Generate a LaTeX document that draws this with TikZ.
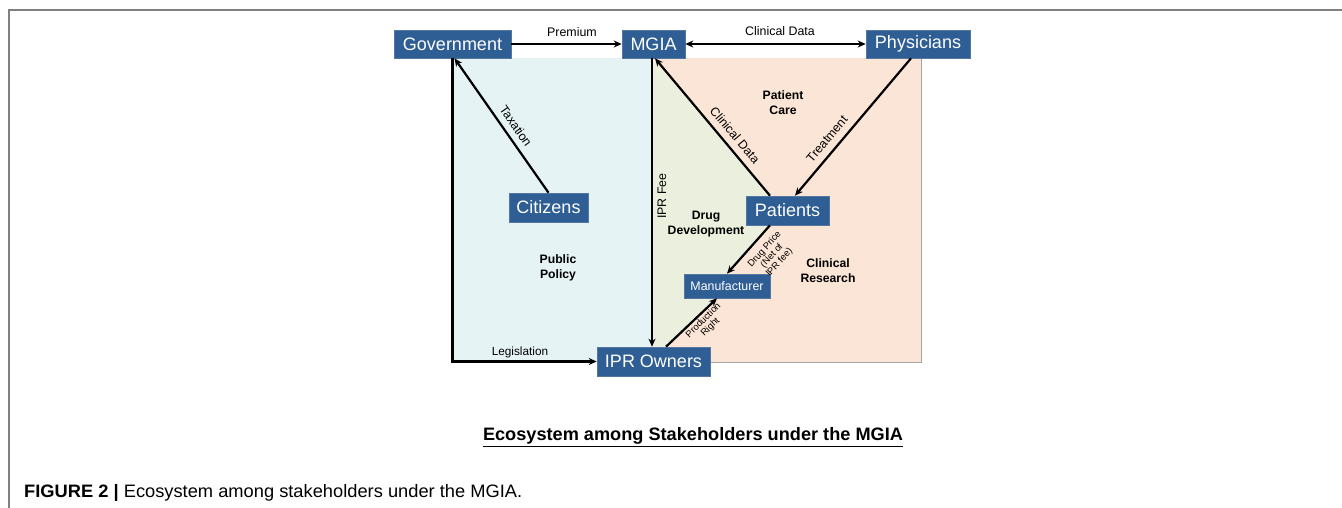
\documentclass[tikz,border=0pt]{standalone}
\usepackage{fontspec}
\setmainfont{Liberation Sans}
\usetikzlibrary{arrows.meta,calc}
\definecolor{boxblue}{RGB}{47,94,148}
\definecolor{boxedge}{RGB}{84,118,160}
\definecolor{policybg}{RGB}{229,243,245}
\definecolor{drugbg}{RGB}{234,240,221}
\definecolor{carebg}{RGB}{251,229,214}
\definecolor{framegray}{RGB}{128,128,128}
\tikzset{
  stake/.style={draw=boxedge, line width=0.6pt, fill=boxblue, text=white,
    inner sep=0pt, font=\fontsize{18}{20}\selectfont},
  flow/.style={line width=2.2pt, -{Stealth[length=8pt,width=7pt]}},
  both/.style={line width=2.2pt, {Stealth[length=8pt,width=7pt]}-{Stealth[length=8pt,width=7pt]}},
  elabel/.style={inner sep=0pt, font=\fontsize{12.4}{14}\selectfont},
  smalllabel/.style={inner sep=0pt, align=center, font=\fontsize{9.4}{9.8}\selectfont},
  region/.style={inner sep=0pt, align=center, font=\bfseries\fontsize{12.2}{15}\selectfont},
}
\begin{document}
\begin{tikzpicture}[x=1pt,y=-1pt]
\useasboundingbox (0,0) rectangle (1342,508);

% outer frame lines
\draw[framegray, line width=1.6pt] (9,508) -- (9,10) -- (1342,10);

% background areas
\fill[carebg] (652,58) rectangle (921,362);
\draw[gray!70, line width=1pt] (921,58) -- (921,362) -- (652,362);
\fill[drugbg] (652,58) -- (770,196) -- (770,225) -- (727,274) -- (717,298)
  -- (666,347) -- (652,347) -- cycle;
\fill[policybg] (452,58) rectangle (652,362);

% stakeholders
\node[stake, minimum width=117pt, minimum height=28pt] (gov) at (452.5,44) {Government};
\node[stake, minimum width=63pt,  minimum height=28pt] (mgia) at (653.5,44) {MGIA};
\node[stake, minimum width=104pt, minimum height=28pt] (phys) at (918,44) {Physicians};
\node[stake, minimum width=79pt,  minimum height=29pt] (cit) at (548.5,207.5) {Citizens};
\node[stake, minimum width=83pt,  minimum height=29pt] (pat) at (787.5,210.5) {Patients};
\node[stake, minimum width=86pt,  minimum height=24pt, font=\fontsize{12.4}{14}\selectfont] (manu) at (727,286) {Manufacturer};
\node[stake, minimum width=113pt, minimum height=29pt] (ipr) at (653.5,361.5) {IPR Owners};

% flows
\draw[flow] (gov.east) -- (mgia.west);
\draw[both] (mgia.east) -- (phys.west);
\draw[flow] (cit.north) -- ([xshift=2pt]gov.south);
\draw[flow] (gov.south) |- (ipr.west);
\draw[flow] ([xshift=-1.5pt]mgia.south) -- ([xshift=-1.5pt]ipr.north);
\draw[flow] ([xshift=-17.5pt]pat.north) -- ([xshift=1.5pt]mgia.south);
\draw[flow] ([xshift=-7pt]phys.south) -- ([xshift=7.5pt]pat.north);
\draw[flow] ([xshift=-17.5pt]pat.south) -- (manu.north);
\draw[flow] ([xshift=12.5pt]ipr.north) -- ([xshift=-10pt]manu.south);

% flow labels
\node[elabel] (lprem) at (572,32) {Premium};
\node[elabel] (lcd1) at (780,31.5) {Clinical Data};
\node[elabel, rotate=-55] (ltax) at (516,126) {Taxation};
\node[elabel, font=\fontsize{11.8}{14}\selectfont] (lleg) at (520,352) {Legislation};
\node[elabel, rotate=90] (lfee) at (662,196) {IPR Fee};
\node[elabel, rotate=-50] (lcd2) at (735,135) {Clinical Data};
\node[elabel, rotate=50] (ltreat) at (827,139) {Treatment};
\node[smalllabel, rotate=48] (lprice) at (772,256) {Drug Price\\(Net of\\IPR fee)};
\node[smalllabel, rotate=45] (lprod) at (707,324) {Production\\Right};

% area labels
\node[region] (rcare) at (783,103) {Patient\\Care};
\node[region] (rdrug) at (706,224) {Drug\\Development};
\node[region] (rpol) at (558,268) {Public\\Policy};
\node[region] (rclin) at (828,271) {Clinical\\Research};

% title and caption
\node[inner sep=0pt] (title) at (693,437)
  {\resizebox{420pt}{\height}{\bfseries\fontsize{18}{20}\selectfont\underline{Ecosystem among Stakeholders under the MGIA}}};
\node[inner sep=0pt, anchor=west] (caption) at (24,493)
  {\resizebox{498pt}{\height}{\fontsize{18}{20}\selectfont\textbf{FIGURE 2 |} Ecosystem among stakeholders under the MGIA.}};
\end{tikzpicture}
\end{document}
